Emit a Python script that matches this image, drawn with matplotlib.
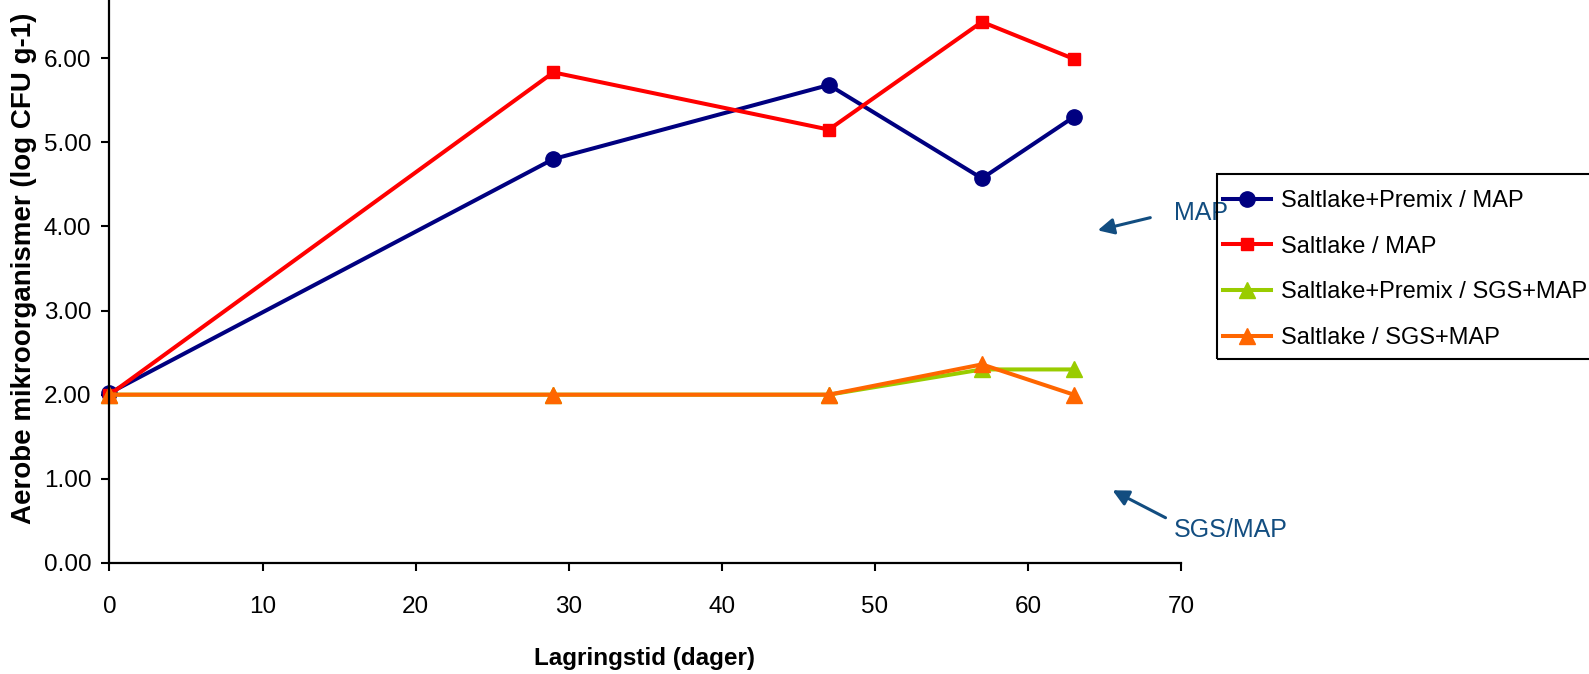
import matplotlib

matplotlib.use("Agg")
import matplotlib.pyplot as plt
from matplotlib.patches import Rectangle
from matplotlib.ticker import FormatStrFormatter

plt.rcParams["font.family"] = ["Liberation Sans", "DejaVu Sans"]

days = [0, 29, 47, 57, 63]
premix_map = [2.02, 4.80, 5.68, 4.57, 5.30]
saltlake_map = [2.00, 5.83, 5.15, 6.43, 5.99]
premix_sgs = [2.00, 2.00, 2.00, 2.30, 2.30]
saltlake_sgs = [2.00, 2.00, 2.00, 2.36, 2.00]

labels = [
    "Saltlake+Premix / MAP",
    "Saltlake / MAP",
    "Saltlake+Premix / SGS+MAP",
    "Saltlake / SGS+MAP",
]
x_ticks = [0, 10, 20, 30, 40, 50, 60, 70]
y_ticks = [0, 1, 2, 3, 4, 5, 6]

ANNOT = "#124d80"
W, H = 1589, 674

fig = plt.figure(figsize=(15.89, 6.74), dpi=100)
ax = fig.add_axes([0.0689, 0.1647, 0.6743, 0.8353])

styles = [
    (premix_map, "#000080", "o", 11),
    (saltlake_map, "#FF0000", "s", 8.5),
    (premix_sgs, "#99CC00", "^", 12),
    (saltlake_sgs, "#FF6600", "^", 12),
]
for (vals, color, marker, ms), label in zip(styles, labels):
    ax.plot(days, vals, color=color, lw=2.9, marker=marker, markersize=ms,
            label=label, clip_on=False)

ax.set_xlim(0, 70)
ax.set_ylim(0, 6.69)
ax.set_xticks(x_ticks)
ax.set_yticks(y_ticks)
ax.yaxis.set_major_formatter(FormatStrFormatter("%.2f"))
for side in ("top", "right"):
    ax.spines[side].set_visible(False)
for side in ("left", "bottom"):
    ax.spines[side].set_linewidth(1.6)
ax.tick_params(axis="y", direction="out", length=6, width=1.5, pad=7, labelsize=17.5)
ax.tick_params(axis="x", direction="out", length=6, width=1.5, pad=18, labelsize=17.5)

fig.text(24 / W, 1 - 268 / H, "Aerobe mikroorganismer (log CFU g-1)",
         rotation=90, ha="center", va="center", fontsize=20, fontweight="bold")
fig.text(644 / W, 1 - 659 / H, "Lagringstid (dager)",
         ha="center", va="center", fontsize=17.5, fontweight="bold")

# legend box drawn separately so it can run off the right edge like the original
fig.patches.append(Rectangle((1217 / W, 1 - 359 / H), 400 / W, 185 / H,
                             transform=fig.transFigure, fill=False,
                             edgecolor="black", lw=1.5))
ax.legend(loc="upper left", bbox_to_anchor=(1223 / W, 1 - 190 / H),
          bbox_transform=fig.transFigure, borderaxespad=0, borderpad=0,
          fontsize=17, frameon=False, handlelength=2.05, handletextpad=0.42,
          labelspacing=1.0)

# annotation arrows
ax.annotate("", xy=(1095 / W, 1 - 231 / H), xytext=(1153 / W, 1 - 217 / H),
            xycoords="figure fraction", textcoords="figure fraction",
            arrowprops=dict(arrowstyle="-|>", color=ANNOT, lw=2.2, mutation_scale=24))
ax.annotate("", xy=(1110 / W, 1 - 489 / H), xytext=(1168 / W, 1 - 519 / H),
            xycoords="figure fraction", textcoords="figure fraction",
            arrowprops=dict(arrowstyle="-|>", color=ANNOT, lw=2.2, mutation_scale=24))
fig.text(1174 / W, 1 - 213 / H, "MAP", color=ANNOT, fontsize=18, va="center", zorder=0)
fig.text(1174 / W, 1 - 530 / H, "SGS/MAP", color=ANNOT, fontsize=18, va="center")

fig.savefig("out.png", dpi=100)
